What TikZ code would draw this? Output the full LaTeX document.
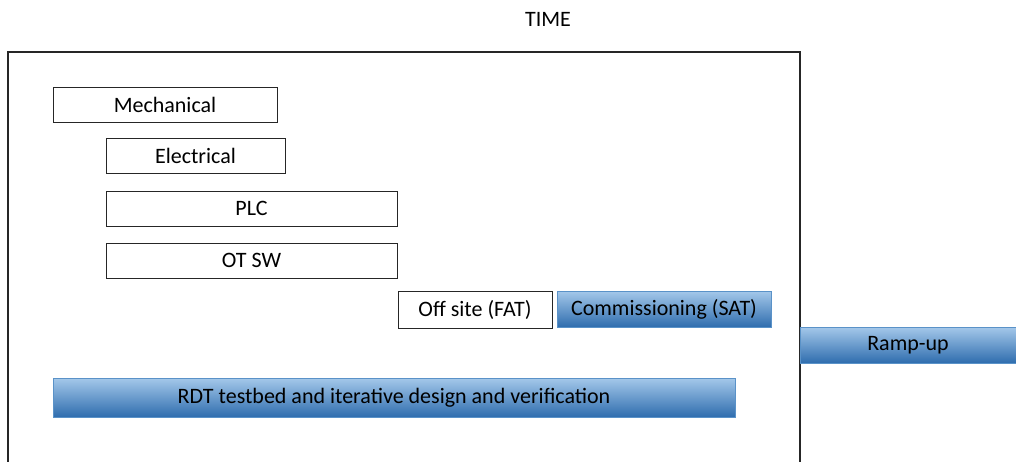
\documentclass[tikz,border=0pt]{standalone}
\usepackage{fontspec}
\setmainfont{Carlito}
\definecolor{gradtop}{HTML}{A4C8EA}
\definecolor{gradmid}{HTML}{6FA2D6}
\definecolor{gradbot}{HTML}{2F6DAE}
\definecolor{gradedge}{HTML}{5A92C8}
\begin{document}
\begin{tikzpicture}[x=1pt,y=-1pt,
  phase/.style={draw=black!85,line width=0.8pt,fill=white},
  shade/.style={draw=gradedge,line width=0.4pt,top color=gradtop,middle color=gradmid,bottom color=gradbot},
  lbl/.style={font=\fontsize{22}{24}\selectfont}]
\useasboundingbox (0,0) rectangle (1016,461);
% time axis frame, open at the bottom
\draw[line width=1.6pt,black!85] (8,470) -- (8,52) -- (800,52) -- (800,470);
\node[lbl] (time) at (548,19) {TIME};
% discipline phases
\path[phase] (53,87) rectangle (277,122) node[midway,lbl] (mech) {Mechanical};
\path[phase] (106,138) rectangle (285,173) node[midway,lbl] (elec) {Electrical};
\path[phase] (106,191) rectangle (397,226) node[midway,lbl] (plc) {PLC};
\path[phase] (106,243) rectangle (397,278) node[midway,lbl] (otsw) {OT SW};
\path[phase] (398,291) rectangle (552,328) node[midway,lbl] (fat) {Off site (FAT)};
% shaded phases
\path[shade] (557,291) rectangle (771,327) node[midway,lbl] (sat) {Commissioning (SAT)};
\path[shade] (800,327) rectangle (1016,363) node[midway,lbl] (ramp) {Ramp-up};
\path[shade] (53,378) rectangle (735,417) node[midway,lbl] (rdt) {RDT testbed and iterative design and verification};
\end{tikzpicture}
\end{document}
